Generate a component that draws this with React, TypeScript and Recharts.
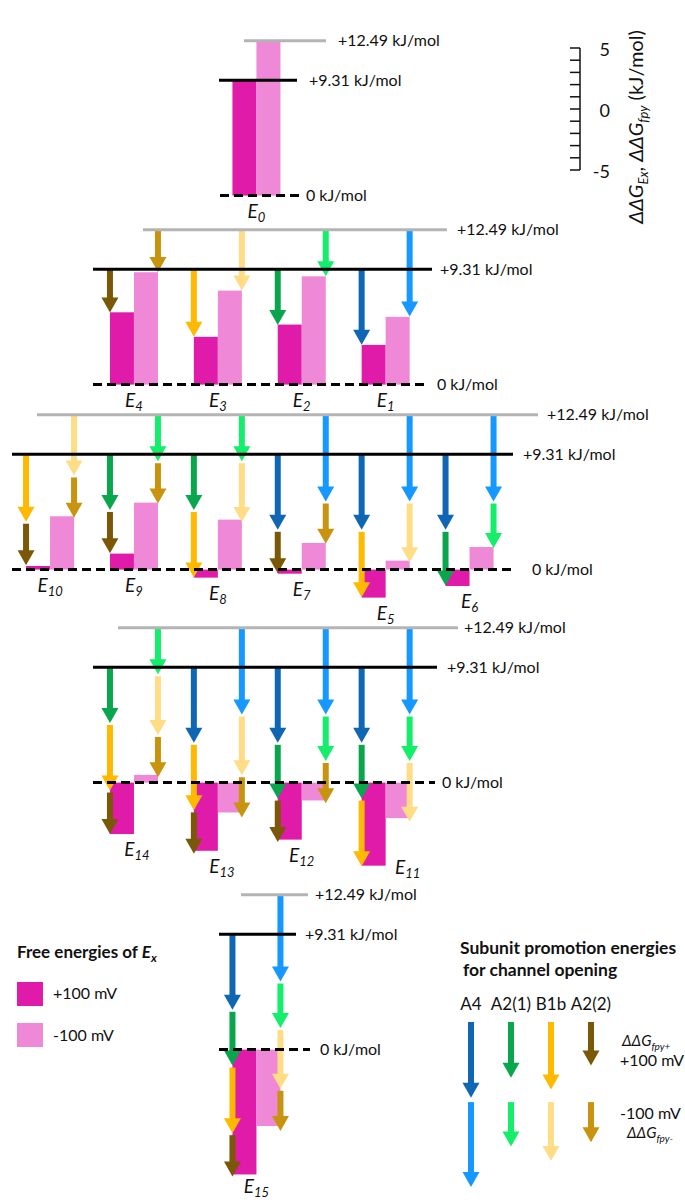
import React from "react";
import { Bar, BarChart, ComposedChart, Line, ReferenceLine, XAxis, YAxis } from "recharts";

// ---- data (kJ/mol) ----
const STATE_IDS = ["E0", "E4", "E3", "E2", "E1", "E10", "E9", "E8", "E7", "E5", "E6", "E14", "E13", "E12", "E11", "E15"];
const DG_PLUS = [9.31, 5.83, 3.85, 4.84, 3.2, 0.29, 1.29, -0.65, -0.33, -2.26, -1.32, -4.15, -5.5, -4.6, -6.7, -10.07];
const DG_MINUS = [12.49, 9.06, 7.58, 8.73, 5.46, 4.3, 5.4, 4.03, 2.15, 0.72, 1.82, 0.62, -2.41, -1.44, -2.86, -6.16];
const PROMOTED = [
  [],
  ["A2(2)"],
  ["B1b"],
  ["A2(1)"],
  ["A4"],
  ["B1b", "A2(2)"],
  ["A2(1)", "A2(2)"],
  ["A2(1)", "B1b"],
  ["A4", "A2(2)"],
  ["A4", "B1b"],
  ["A4", "A2(1)"],
  ["A2(1)", "B1b", "A2(2)"],
  ["A4", "B1b", "A2(2)"],
  ["A4", "A2(1)", "A2(2)"],
  ["A4", "A2(1)", "B1b"],
  ["A4", "A2(1)", "B1b", "A2(2)"],
];
const SUBUNITS = ["A4", "A2(1)", "B1b", "A2(2)"];
const FPY_PLUS = [6.1, 4.5, 5.45, 3.5];
const FPY_MINUS = [7.0, 3.75, 4.9, 3.4];
const LEVELS = [12.49, 9.31, 0];
const LEVEL_LABELS = ["+12.49 kJ/mol", "+9.31 kJ/mol", "0 kJ/mol"];
const PANEL_STATES = [
  ["E0"],
  ["E4", "E3", "E2", "E1"],
  ["E10", "E9", "E8", "E7", "E5", "E6"],
  ["E14", "E13", "E12", "E11"],
  ["E15"],
];
const SCALE_TICKS = [-5, -4, -3, -2, -1, 0, 1, 2, 3, 4, 5];

// ---- styling / layout ----
const FONT = "Lato, 'Open Sans', sans-serif";
const BAR_PLUS = "#e01aa9";
const BAR_MINUS = "#ee88d7";
const ARROW_PLUS = ["#0f67b3", "#0aa64e", "#ffb900", "#7a5807"];
const ARROW_MINUS = ["#1598ff", "#14ee6b", "#ffdd86", "#c8930e"];
const LEVEL_STROKE = ["#b4b4b4", "#000", "#000"];
const K = 12.4; // px per kJ/mol
const SLOT_W = 83.9;
const SLOT_X0 = 50;
const LEGEND_GAP = 6.3;
// state labels that sit beside rather than under their bars: [dx, dy]
const LABEL_NUDGE: Record<string, number[]> = { E11: [22, -14], E13: [4, 0], E14: [3, 0], E15: [0, -3] };

// per panel: zero line y, first slot, y domain, [x1, x2, labelX] for each level line
const PANEL_LAYOUT = [
  { zeroY: 196, slot: 2.46, lo: -2.5, hi: 14, lines: [[244, 326, 338], [219, 297, 309], [220, 299, 306]] },
  { zeroY: 385, slot: 1, lo: -2.5, hi: 14, lines: [[143, 447, 457], [93, 432, 440], [93, 427, 437]] },
  { zeroY: 569.5, slot: 0, lo: -5.5, hi: 14, lines: [[37, 538, 547], [12, 513, 523], [12, 515, 532]] },
  { zeroY: 783, slot: 1, lo: -9, hi: 14, lines: [[118, 458, 464], [93, 437, 447], [93, 435, 442]] },
  { zeroY: 1049.3, slot: 2.46, lo: -12.1, hi: 14, lines: [[241, 308, 315], [219, 296, 305], [219, 310, 320]] },
];

function buildRow(id: string) {
  const i = STATE_IDS.indexOf(id);
  let p = LEVELS[1];
  let m = LEVELS[0];
  const plusArrows = PROMOTED[i].map((s) => {
    const j = SUBUNITS.indexOf(s);
    const a = { from: p, to: p - FPY_PLUS[j], color: ARROW_PLUS[j] };
    p = a.to;
    return a;
  });
  const minusArrows = PROMOTED[i].map((s) => {
    const j = SUBUNITS.indexOf(s);
    const a = { from: m, to: m - FPY_MINUS[j], color: ARROW_MINUS[j] };
    m = a.to;
    return a;
  });
  return {
    id,
    plus: DG_PLUS[i],
    minus: DG_MINUS[i],
    plusSpan: [p, LEVELS[1]],
    minusSpan: [m, LEVELS[0]],
    plusArrows,
    minusArrows,
  };
}

function Arrow({ x, y1, y2, color }: { x: number; y1: number; y2: number; color: string }) {
  const head = Math.min(15, (y2 - y1) * 0.6);
  return (
    <g>
      <rect x={x - 3} y={y1} width={6} height={Math.max(0, y2 - y1 - head + 1)} fill={color} />
      <polygon points={`${x - 8.5},${y2 - head} ${x + 8.5},${y2 - head} ${x},${y2}`} fill={color} />
    </g>
  );
}

// draws a column of arrows inside a range bar; the bar gives the scale
function ArrowStack(props: any) {
  const { x, y, width, height, payload, side, arrowsKey, spanKey, center } = props;
  const arrows = payload[arrowsKey];
  const span = payload[spanKey];
  if (!arrows || !arrows.length || !height) return <g />;
  const top = Math.min(y, y + height);
  const k = Math.abs(height) / (span[1] - span[0]);
  const ax = center ? x + width / 2 : side === "left" ? x : x + width;
  return (
    <g>
      {arrows.map((a: any, n: number) => (
        <Arrow
          key={n}
          x={ax}
          y1={top + (span[1] - a.from) * k + (a.from === span[1] ? 0 : 2)}
          y2={top + (span[1] - a.to) * k}
          color={a.color}
        />
      ))}
    </g>
  );
}

function StateBar(props: any) {
  const { x, y, width, height, payload } = props;
  const top = Math.min(y, y + height);
  const h = Math.abs(height);
  const [dx, dy] = LABEL_NUDGE[payload.id] || [0, 0];
  return (
    <g>
      <rect x={x} y={top} width={width} height={h} fill={BAR_PLUS} />
      <text
        x={x + width + dx}
        y={top + h + 22 + dy}
        textAnchor="middle"
        fontStyle="italic"
        fontSize={19}
        fontFamily={FONT}
        fill="#111"
      >
        E<tspan fontSize={13} dy={4}>{payload.id.slice(1)}</tspan>
      </text>
    </g>
  );
}

function PlainBar(props: any) {
  const { x, y, width, height } = props;
  return <rect x={x} y={Math.min(y, y + height)} width={width} height={Math.abs(height)} fill={BAR_MINUS} />;
}

const levelShape = (ext: number[], i: number) => (p: any) => (
  <g>
    <line
      x1={ext[0]}
      x2={ext[1]}
      y1={p.y1}
      y2={p.y1}
      stroke={LEVEL_STROKE[i]}
      strokeWidth={3}
      strokeDasharray={i === 2 ? "9 5" : undefined}
    />
    <text x={ext[2]} y={p.y1} dy="0.35em" fontSize={16} fontFamily={FONT} fill="#111">
      {LEVEL_LABELS[i]}
    </text>
  </g>
);

function EnergyPanel({ ids, layout }: { ids: string[]; layout: any }) {
  const { zeroY, slot, lo, hi, lines } = layout;
  const rows = ids.map(buildRow);
  const height = (hi - lo) * K;
  const plotW = ids.length * SLOT_W;
  const left = SLOT_X0 + slot * SLOT_W - SLOT_W / 2;
  return (
    <div style={{ position: "absolute", left: 0, top: zeroY - hi * K }}>
      <BarChart
        width={685}
        height={height}
        data={rows}
        margin={{ top: 0, bottom: 0, left, right: 685 - left - plotW }}
        barGap={0}
      >
        <XAxis dataKey="id" hide />
        <XAxis dataKey="id" xAxisId="arrows" hide />
        <YAxis type="number" domain={[lo, hi]} allowDataOverflow hide />
        <Bar dataKey="plus" barSize={24} fill={BAR_PLUS} isAnimationActive={false} shape={StateBar} />
        <Bar dataKey="minus" barSize={24} fill={BAR_MINUS} isAnimationActive={false} shape={PlainBar} />
        {LEVELS.map((v, i) => (
          <ReferenceLine key={v} y={v} shape={levelShape(lines[i], i)} />
        ))}
        <Bar
          xAxisId="arrows"
          dataKey="plusSpan"
          barSize={24}
          isAnimationActive={false}
          shape={(p: any) => <ArrowStack {...p} side="left" arrowsKey="plusArrows" spanKey="plusSpan" />}
        />
        <Bar
          xAxisId="arrows"
          dataKey="minusSpan"
          barSize={24}
          isAnimationActive={false}
          shape={(p: any) => <ArrowStack {...p} side="right" arrowsKey="minusArrows" spanKey="minusSpan" />}
        />
      </BarChart>
    </div>
  );
}

function ScaleTick(p: any) {
  const v = p.payload.value;
  return (
    <g>
      <line x1={p.x - 10} x2={p.x} y1={p.y} y2={p.y} stroke="#111" strokeWidth={1.5} />
      {v % 5 === 0 && (
        <text x={p.x + 30} y={p.y + 2} dy="0.35em" textAnchor="end" fontSize={18} fontFamily={FONT} fill="#111">
          {v}
        </text>
      )}
    </g>
  );
}

function ScaleBar() {
  const rows = SCALE_TICKS.map((v) => ({ v }));
  return (
    <div style={{ position: "absolute", left: 560, top: 32 }}>
      <ComposedChart width={125} height={154} data={rows} margin={{ top: 16, bottom: 16, left: 0, right: 0 }}>
        <XAxis dataKey="v" hide />
        <YAxis
          orientation="right"
          width={105}
          type="number"
          domain={[-5, 5]}
          ticks={SCALE_TICKS}
          interval={0}
          tickLine={false}
          tickSize={0}
          tickMargin={0}
          axisLine={{ stroke: "#111", strokeWidth: 1.5 }}
          tick={ScaleTick}
        />
        <Line dataKey="v" stroke="none" dot={false} activeDot={false} isAnimationActive={false} />
      </ComposedChart>
    </div>
  );
}

function LegendArrows() {
  const rows = SUBUNITS.map((s, j) => ({
    id: s,
    span: [-(LEGEND_GAP + FPY_MINUS[j]), 0],
    arrows: [
      { from: 0, to: -FPY_PLUS[j], color: ARROW_PLUS[j] },
      { from: -LEGEND_GAP, to: -(LEGEND_GAP + FPY_MINUS[j]), color: ARROW_MINUS[j] },
    ],
  }));
  const plotLeft = 451;
  const plotW = 160;
  return (
    <div style={{ position: "absolute", left: 0, top: 992 }}>
      <BarChart width={685} height={30 + 14 * K} data={rows} margin={{ top: 0, bottom: 0, left: plotLeft, right: 685 - plotLeft - plotW }}>
        <XAxis
          dataKey="id"
          orientation="top"
          height={30}
          interval={0}
          tickLine={false}
          axisLine={false}
          tickMargin={6}
          tick={{ fontSize: 17, fill: "#111", fontFamily: FONT }}
        />
        <YAxis type="number" domain={[-14, 0]} allowDataOverflow hide />
        <Bar
          dataKey="span"
          barSize={10}
          isAnimationActive={false}
          shape={(p: any) => <ArrowStack {...p} center arrowsKey="arrows" spanKey="span" />}
        />
      </BarChart>
    </div>
  );
}

function Overlay() {
  const t = { fontFamily: FONT, fill: "#111" };
  return (
    <svg width={685} height={1200} style={{ position: "absolute", left: 0, top: 0, pointerEvents: "none" }}>
      <text transform="translate(643,127) rotate(-90)" textAnchor="middle" fontSize={20} {...t}>
        <tspan fontStyle="italic">ΔΔG</tspan>
        <tspan fontStyle="italic" fontSize={13} dy={5}>Ex</tspan>
        <tspan dy={-5}>, </tspan>
        <tspan fontStyle="italic">ΔΔG</tspan>
        <tspan fontStyle="italic" fontSize={13} dy={5}>fpy</tspan>
        <tspan dy={-5}> (kJ/mol)</tspan>
      </text>

      <text x={17} y={958} fontSize={17} fontWeight="bold" {...t}>
        Free energies of <tspan fontStyle="italic">E</tspan>
        <tspan fontStyle="italic" fontSize={12} dy={4}>x</tspan>
      </text>
      <rect x={17} y={982} width={26} height={24} fill={BAR_PLUS} />
      <text x={53} y={993} dy="0.35em" fontSize={16} {...t}>+100 mV</text>
      <rect x={17} y={1023} width={26} height={24} fill={BAR_MINUS} />
      <text x={53} y={1035} dy="0.35em" fontSize={16} {...t}>-100 mV</text>

      <text x={460} y={954} fontSize={17.5} fontWeight="bold" {...t}>Subunit promotion energies</text>
      <text x={463} y={976} fontSize={17.5} fontWeight="bold" {...t}>for channel opening</text>

      <text x={622} y={1046} fontSize={15} fontStyle="italic" {...t}>
        ΔΔG<tspan fontSize={10} dy={4}>fpy+</tspan>
      </text>
      <text x={620} y={1066} fontSize={16} {...t}>+100 mV</text>
      <text x={620} y={1119} fontSize={16} {...t}>-100 mV</text>
      <text x={627} y={1138} fontSize={15} fontStyle="italic" {...t}>
        ΔΔG<tspan fontSize={10} dy={4}>fpy-</tspan>
      </text>
    </svg>
  );
}

export default function App() {
  return (
    <div style={{ position: "absolute", left: 0, top: 0, width: 685, height: 1200, background: "#fff", fontFamily: FONT }}>
      {PANEL_STATES.map((ids, i) => (
        <EnergyPanel key={i} ids={ids} layout={PANEL_LAYOUT[i]} />
      ))}
      <ScaleBar />
      <LegendArrows />
      <Overlay />
    </div>
  );
}
